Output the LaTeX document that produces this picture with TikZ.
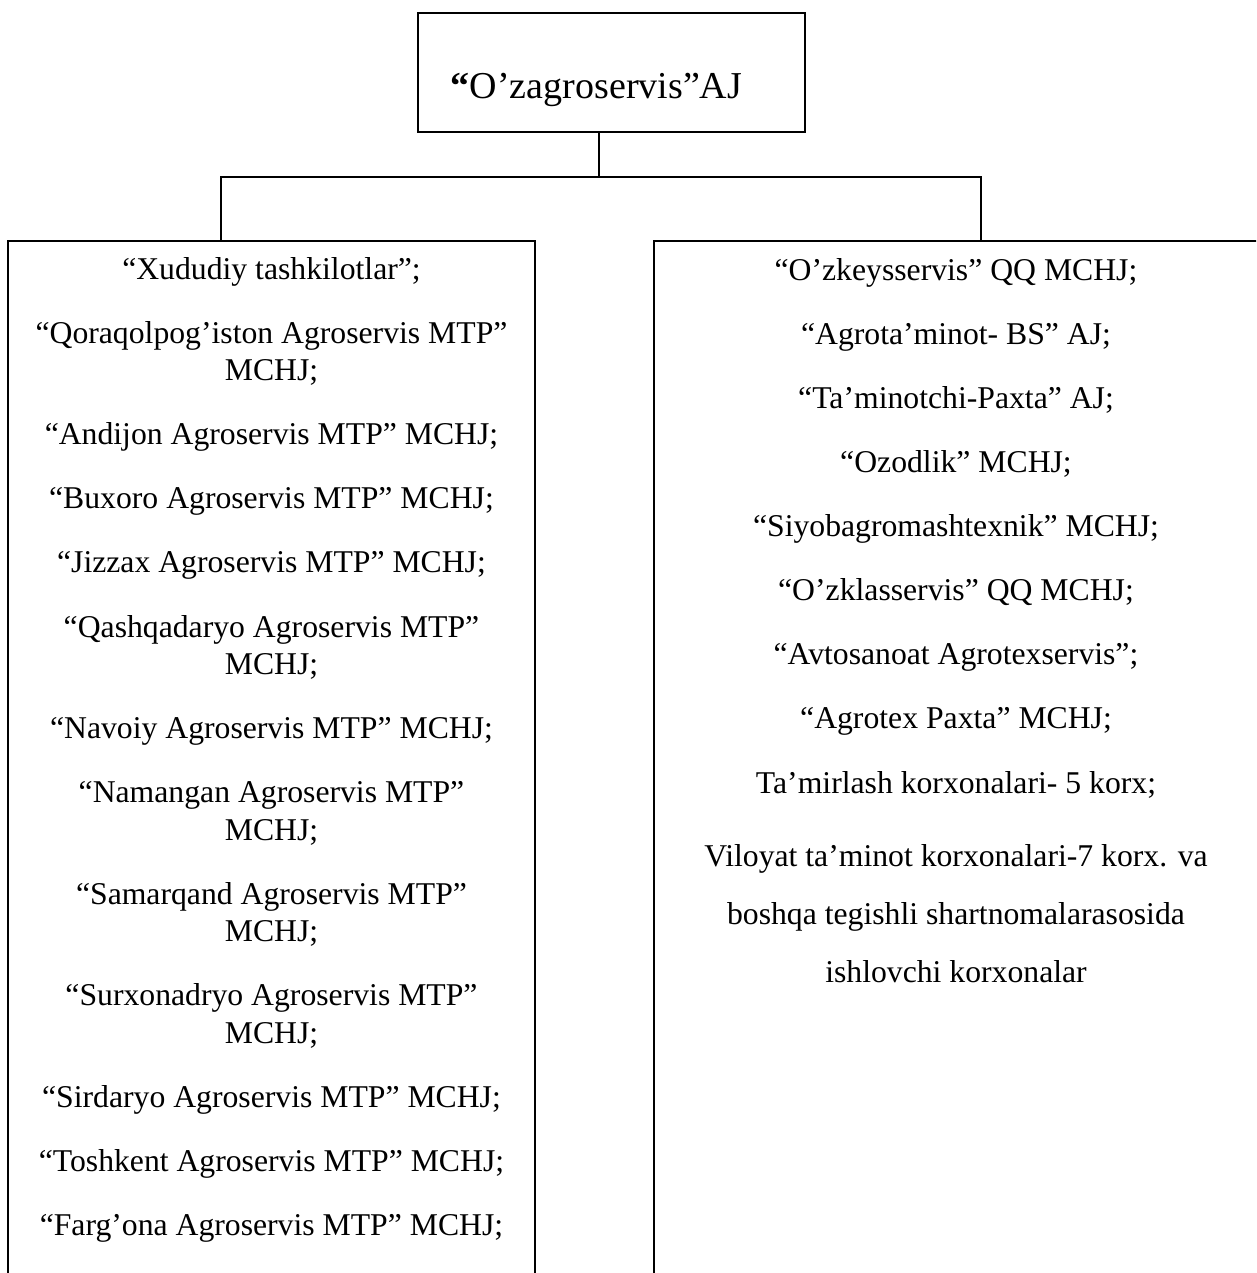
\documentclass[tikz,border=0pt]{standalone}
\usepackage{fontspec}
\setmainfont{Liberation Serif}
\begin{document}
\begin{tikzpicture}[x=1pt,y=-1pt,
  box/.style={draw,line width=1.8pt,inner sep=0pt},
  lbl/.style={anchor=base,inner sep=0pt,font=\fontsize{31.7}{37.5}\selectfont},
  link/.style={line width=1.8pt}]
\useasboundingbox (0,0) rectangle (1256,1273);
\clip (0,0) rectangle (1256,1273);
% boxes
\node[box,minimum width=387pt,minimum height=119pt] (top) at (611.5,72.5) {};
\node[lbl,font=\fontsize{38}{44}\selectfont] (title) at (596.5,99) {{\bfseries “}O’zagroservis”AJ};
\node[box,minimum width=527pt,minimum height=1100pt,anchor=north] (leftbox) at (271.5,240) {};
\node[box,minimum width=610pt,minimum height=1100pt,anchor=north west] (rightbox) at (653,240) {};
% connectors
\coordinate (hub) at (599,177);
\coordinate (lj) at (221,177);
\coordinate (rj) at (981,177);
\draw[link] (hub |- top.south) -- (hub);
\draw[link] (lj |- leftbox.north) -- (lj) -- (rj) -- (rj |- rightbox.north);
% left list
\foreach \y/\t [count=\i] in {
  279/{“Xududiy tashkilotlar”;},
  343.1/{“Qoraqolpog’iston Agroservis MTP”},
  380.6/{MCHJ;},
  444.7/{“Andijon Agroservis MTP” MCHJ;},
  508.8/{“Buxoro Agroservis MTP” MCHJ;},
  572.9/{“Jizzax Agroservis MTP” MCHJ;},
  637.0/{“Qashqadaryo Agroservis MTP”},
  674.5/{MCHJ;},
  738.6/{“Navoiy Agroservis MTP” MCHJ;},
  802.7/{“Namangan Agroservis MTP”},
  840.2/{MCHJ;},
  904.3/{“Samarqand Agroservis MTP”},
  941.8/{MCHJ;},
  1005.9/{“Surxonadryo Agroservis MTP”},
  1043.4/{MCHJ;},
  1107.5/{“Sirdaryo Agroservis MTP” MCHJ;},
  1171.6/{“Toshkent Agroservis MTP” MCHJ;},
  1235.7/{“Farg’ona Agroservis MTP” MCHJ;}}
  \node[lbl] (l\i) at (271.5,\y) {\t};
% right list
\foreach \y/\t [count=\i] in {
  280/{“O’zkeysservis” QQ MCHJ;},
  344.1/{“Agrota’minot- BS” AJ;},
  408.2/{“Ta’minotchi-Paxta” AJ;},
  472.3/{“Ozodlik” MCHJ;},
  536.4/{“Siyobagromashtexnik” MCHJ;},
  600.5/{“O’zklasservis” QQ MCHJ;},
  664.6/{“Avtosanoat Agrotexservis”;},
  728.7/{“Agrotex Paxta” MCHJ;},
  793.5/{Ta’mirlash korxonalari- 5 korx;},
  866/{Viloyat ta’minot korxonalari-7 korx. va},
  924/{boshqa tegishli shartnomalarasosida},
  982/{ishlovchi korxonalar}}
  \node[lbl] (r\i) at (956,\y) {\t};
\end{tikzpicture}
\end{document}
